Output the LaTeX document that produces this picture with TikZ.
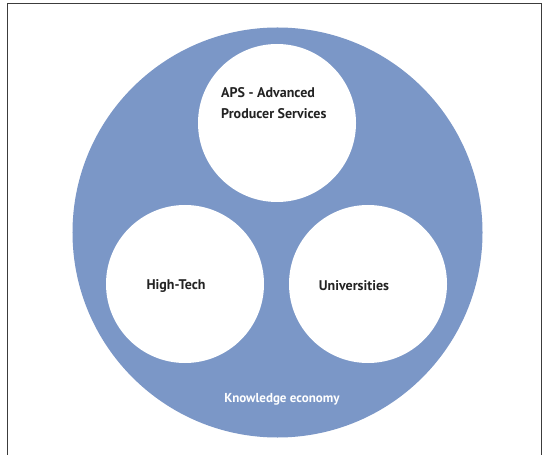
\documentclass[tikz,border=0pt]{standalone}
\usepackage{fontspec}
\setmainfont{PT Sans}
\definecolor{kblue}{RGB}{123,151,199}
\definecolor{ktext}{RGB}{35,35,35}
\definecolor{kframe}{RGB}{60,60,60}
\begin{document}
\begin{tikzpicture}[x=1bp,y=-1bp,
  sector/.style={circle,fill=white,draw=none,minimum size=158bp,inner sep=0pt},
  label/.style={text=ktext,inner sep=0pt,font=\fontsize{14bp}{21bp}\selectfont\bfseries}]
\useasboundingbox (0,0) rectangle (546,455);
\fill[white] (0,0) rectangle (546,455);
\draw[kframe,line width=1bp] (7,455) -- (7,4) -- (541,4) -- (541,455);
\node[circle,fill=kblue,minimum size=410bp,inner sep=0pt] (econ) at (277.5,232.5) {};
\node[sector] (aps) at (277,123) {};
\node[sector] (tech) at (185,284) {};
\node[sector] (uni) at (368,284) {};
\node[label,align=left,anchor=west] (apst) at (221,103) {APS - Advanced\\Producer Services};
\node[label] (techt) at (176,286) {High-Tech};
\node[label] (unit) at (354,286) {Universities};
\node[text=white,inner sep=0pt,font=\fontsize{13bp}{15bp}\selectfont\bfseries] (econt) at (282,399) {Knowledge economy};
\end{tikzpicture}
\end{document}
